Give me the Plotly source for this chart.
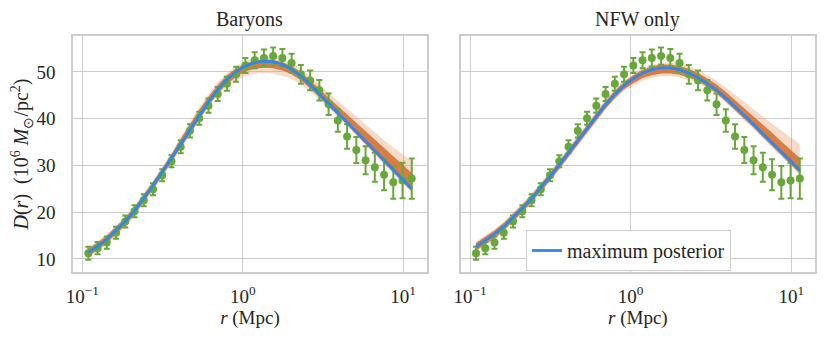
import plotly.graph_objects as go

# radial bins (Mpc), observed profile and its errors
r_mpc = [0.1090, 0.1245, 0.1421, 0.1623, 0.1853, 0.2116, 0.2416, 0.2759, 0.3150, 0.3597,
         0.4107, 0.4690, 0.5355, 0.6115, 0.6982, 0.7972, 0.9101, 1.0392, 1.1866, 1.3549,
         1.5471, 1.7665, 2.0170, 2.3031, 2.6298, 3.0027, 3.4286, 3.9149, 4.4702, 5.1042,
         5.8281, 6.6547, 7.5986, 8.6763, 9.9060, 11.31]
d_obs = [11.2, 12.3, 13.5, 15.6, 18.0, 20.2, 22.55, 24.9, 27.9, 30.9,
         34.0, 37.4, 40.1, 42.8, 45.3, 47.5, 49.5, 51.4, 52.5, 53.0,
         53.4, 53.0, 51.9, 49.5, 48.2, 46.1, 43.1, 39.6, 36.2, 33.3,
         31.1, 29.6, 28.0, 26.4, 26.8, 27.2]
d_err = [1.4, 1.3, 1.3, 1.3, 1.3, 1.3, 1.3, 1.3, 1.3, 1.3,
         1.4, 1.4, 1.4, 1.5, 1.5, 1.5, 1.6, 1.6, 1.7, 1.8,
         1.85, 1.9, 2.0, 2.0, 2.1, 2.2, 2.3, 2.4, 2.6, 2.8,
         3.0, 3.1, 3.3, 3.5, 3.8, 4.3]

# maximum posterior curves
best_baryons = [11.4, 12.7, 14.2, 16.0, 18.0, 20.3, 22.9, 25.7, 28.6, 31.6,
                34.7, 37.8, 40.8, 43.6, 46.2, 48.4, 50.1, 51.3, 52.0, 52.3,
                52.2, 51.6, 50.6, 49.1, 47.3, 45.3, 43.3, 41.3, 39.3, 37.2,
                35.2, 33.2, 31.1, 29.1, 27.1, 25.0]
best_nfw = [12.6, 13.9, 15.3, 16.9, 18.8, 20.8, 22.9, 25.2, 27.6, 30.1,
            32.7, 35.3, 38.0, 40.6, 43.0, 45.2, 47.1, 48.6, 49.8, 50.5,
            50.9, 50.9, 50.5, 49.8, 48.8, 47.5, 46.1, 44.4, 42.6, 40.7,
            38.8, 36.8, 34.8, 32.8, 30.9, 29.0]

# spread of the posterior samples around the best fit (below / above)
core_lo_baryons = [0.8]*15 + [1.0, 1.1] + [1.2, 1.3, 1.4, 1.4, 1.3, 1.1] + [0.9, 0.8, 0.7] + [0.6]*10
core_hi_baryons = [0.8]*10 + [1.0, 1.1, 1.1, 1.1, 1.0] + [0.9, 0.7] + [0.5, 0.4, 0.4, 0.4, 0.5, 0.7] + \
    [0.9, 1.0, 1.1] + [1.2, 1.4, 1.6, 1.8, 2.0, 2.2, 2.5, 2.8, 3.1, 3.4]
fringe_lo_baryons = [1.1]*15 + [1.5, 1.9] + [2.2, 2.4, 2.5, 2.5, 2.4, 2.1] + [1.7, 1.4, 1.2] + [1.0] + [0.9]*9
fringe_hi_baryons = [1.1]*10 + [1.5, 1.6, 1.7, 1.7, 1.6] + [1.4, 1.2] + [1.0, 0.9, 0.9, 0.9, 1.1, 1.3] + \
    [1.6, 1.8, 2.0] + [2.2, 2.5, 2.8, 3.1, 3.5, 3.9, 4.3, 4.8, 5.3, 5.9]

core_lo_nfw = [0.8]*17 + [1.0, 1.1, 1.2, 1.2, 1.2, 1.1, 1.0] + [0.8] + [0.7]*11
core_hi_nfw = [0.8]*17 + [0.7, 0.7, 0.7, 0.7, 0.7, 0.8, 0.9] + \
    [1.0, 1.1, 1.2, 1.3, 1.4, 1.6, 1.8, 2.0, 2.2, 2.3, 2.4, 2.6]
fringe_lo_nfw = [1.1]*17 + [1.6, 1.7, 1.8, 1.8, 1.8, 1.7, 1.5] + [1.2] + [1.0]*11
fringe_hi_nfw = [1.1]*17 + [1.1, 1.1, 1.1, 1.1, 1.2, 1.3, 1.4] + \
    [1.6, 1.8, 2.0, 2.3, 2.6, 2.9, 3.3, 3.7, 4.1, 4.6, 5.1, 5.6]

panels = [
    ("Baryons", best_baryons, core_lo_baryons, core_hi_baryons, fringe_lo_baryons, fringe_hi_baryons),
    ("NFW only", best_nfw, core_lo_nfw, core_hi_nfw, fringe_lo_nfw, fringe_hi_nfw),
]

FONT = "Liberation Serif"
GREEN = "rgb(104,168,58)"
BLUE = "#2f86ee"
GRID = "#cccccc"

fig = go.Figure()

for k, (name, best, clo, chi, flo, fhi) in enumerate(panels):
    xa = "x" if k == 0 else "x2"
    ya = "y" if k == 0 else "y2"
    bands = [(flo, fhi, "rgba(232,150,95,0.35)"), (clo, chi, "rgba(210,108,42,0.85)")]
    for lo, hi, col in bands:
        fig.add_trace(go.Scatter(x=r_mpc, y=[b - d for b, d in zip(best, lo)], mode="lines",
                                 line=dict(width=0), showlegend=False, hoverinfo="skip",
                                 xaxis=xa, yaxis=ya))
        fig.add_trace(go.Scatter(x=r_mpc, y=[b + d for b, d in zip(best, hi)], mode="lines",
                                 line=dict(width=0), fill="tonexty", fillcolor=col,
                                 showlegend=False, hoverinfo="skip", xaxis=xa, yaxis=ya))
    fig.add_trace(go.Scatter(
        x=r_mpc, y=d_obs, mode="markers",
        marker=dict(color=GREEN, size=8),
        error_y=dict(type="data", array=d_err, visible=True, color=GREEN, thickness=2, width=3),
        showlegend=False, xaxis=xa, yaxis=ya))
    fig.add_trace(go.Scatter(
        x=r_mpc, y=best, mode="lines", line=dict(color=BLUE, width=2.8),
        name="maximum posterior", showlegend=(k == 1), xaxis=xa, yaxis=ya))

xaxis_style = dict(
    type="log", range=[-1.058, 1.148], automargin=False,
    tickvals=[0.1, 1, 10], ticktext=["10<sup>−1</sup>", "10<sup>0</sup>", "10<sup>1</sup>"],
    showgrid=True, gridcolor=GRID, gridwidth=1, zeroline=False,
    showline=True, linecolor=GRID, linewidth=1.5, mirror=True, ticks="",
    tickfont=dict(size=19), ticklabelstandoff=6,
    title=dict(text="<i>r</i> (Mpc)", font=dict(size=19), standoff=2),
)
yaxis_style = dict(
    range=[7.2, 57.7], tickvals=[10, 20, 30, 40, 50], automargin=False,
    showgrid=True, gridcolor=GRID, gridwidth=1, zeroline=False,
    showline=True, linecolor=GRID, linewidth=1.5, mirror=True, ticks="",
    tickfont=dict(size=19),
)

# the page adds an 8 px body margin, so the figure is drawn 8 px smaller
fig.update_layout(
    width=819, height=335,
    margin=dict(l=65, r=12, t=28, b=71),
    paper_bgcolor="white", plot_bgcolor="white",
    font=dict(family=FONT, size=19, color="#262626"),
    xaxis=dict(domain=[0, 0.477], **xaxis_style),
    xaxis2=dict(domain=[0.5225, 1], **xaxis_style),
    yaxis=dict(anchor="x", ticklabelstandoff=12,
               title=dict(text="<i>D</i>(<i>r</i>)  (10<sup>6</sup> <i>M</i><sub>⊙</sub>/pc<sup>2</sup>)",
                          font=dict(size=20), standoff=6),
               **yaxis_style),
    yaxis2=dict(anchor="x2", showticklabels=False, **yaxis_style),
    legend=dict(x=0.6105, y=0.178, xanchor="left", yanchor="top",
                bgcolor="white", bordercolor=GRID, borderwidth=1,
                font=dict(size=20)),
    annotations=[
        dict(text="Baryons", x=0.2385, y=1.0, xref="paper", yref="paper",
             xanchor="center", yanchor="bottom", yshift=3, showarrow=False, font=dict(size=20)),
        dict(text="NFW only", x=0.761, y=1.0, xref="paper", yref="paper",
             xanchor="center", yanchor="bottom", yshift=3, showarrow=False, font=dict(size=20)),
    ],
)

fig.write_html("out.html")
